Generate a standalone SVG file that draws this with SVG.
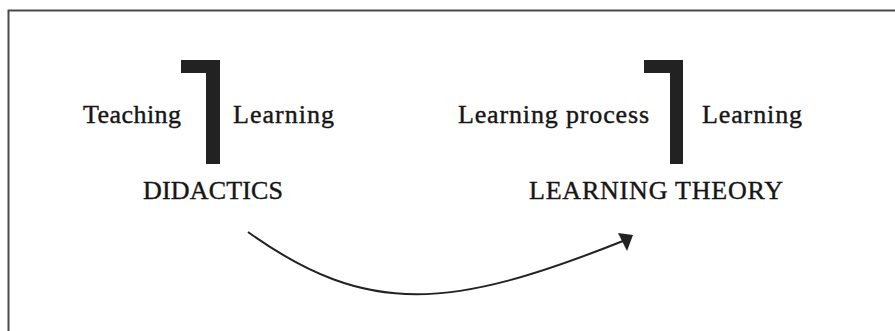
<svg xmlns="http://www.w3.org/2000/svg" width="895" height="331" viewBox="0 0 895 331">
  <style>
    .lbl { font-family: "Liberation Serif", "Times New Roman", serif; font-size: 26px; fill: #161616; stroke: #161616; stroke-width: 0.4; }
    .brk { fill: #222; }
    .frame { fill: none; stroke: #4a4a4a; stroke-width: 2; }
    .conn { fill: none; stroke: #222; stroke-width: 2; }
    .head { fill: #222; }
  </style>
  <rect width="895" height="331" fill="#fff"/>
  <path class="frame" d="M8.5,331 V10.5 H895"/>

  <g id="didactics">
    <polygon class="brk" points="181,60 220,60 220,164 206,164 206,73 181,73"/>
    <text class="lbl" x="83" y="123" textLength="98">Teaching</text>
    <text class="lbl" x="233" y="123" textLength="101">Learning</text>
    <text class="lbl" x="143" y="199" textLength="140">DIDACTICS</text>
  </g>

  <g id="learning-theory">
    <polygon class="brk" points="644,60 683,60 683,164 670,164 670,73 644,73"/>
    <text class="lbl" x="458" y="123" textLength="191">Learning process</text>
    <text class="lbl" x="702" y="123" textLength="100">Learning</text>
    <text class="lbl" x="529" y="199" textLength="254">LEARNING THEORY</text>
  </g>

  <g id="connectors">
    <path class="conn" d="M248,232 C368,318 452,309 623,241"/>
    <polygon class="head" points="633,235 618,233 627,251"/>
  </g>
</svg>
